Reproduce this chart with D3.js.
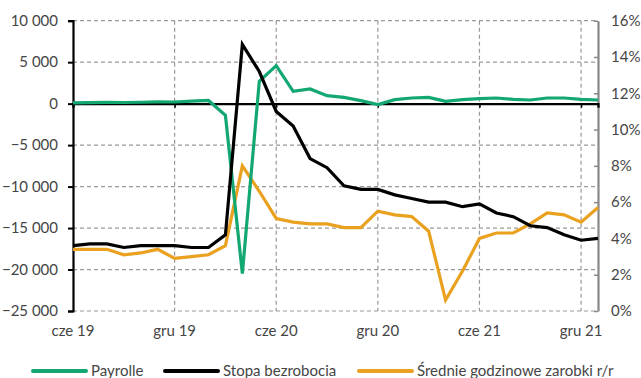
<!DOCTYPE html>
<html>
<head>
<meta charset="utf-8">
<script src="https://cdn.jsdelivr.net/npm/d3@7"></script>
<style>
  html, body { margin: 0; padding: 0; background: #fff; }
  svg { display: block; font-family: Lato, "Noto Sans", sans-serif; }
</style>
</head>
<body>
<svg id="chart" width="641" height="378"></svg>
<script>
// ---- data ----
const months = ["2019-06","2019-07","2019-08","2019-09","2019-10","2019-11","2019-12",
  "2020-01","2020-02","2020-03","2020-04","2020-05","2020-06","2020-07","2020-08","2020-09",
  "2020-10","2020-11","2020-12","2021-01","2021-02","2021-03","2021-04","2021-05","2021-06",
  "2021-07","2021-08","2021-09","2021-10","2021-11","2021-12","2022-01"];
const payrolls = [100, 120, 150, 140, 170, 220, 200, 300, 380, -1400, -20500, 2690, 4580,
  1480, 1770, 960, 760, 360, -120, 480, 680, 760, 280, 480, 600, 680, 520, 440, 680, 680, 520, 440];
const unemployment = [3.6, 3.7, 3.7, 3.5, 3.6, 3.6, 3.6, 3.5, 3.5, 4.2, 14.7, 13.2, 11.0,
  10.2, 8.4, 7.9, 6.9, 6.7, 6.7, 6.4, 6.2, 6.0, 6.0, 5.75, 5.9, 5.4, 5.2, 4.7, 4.6, 4.2, 3.9, 4.0];
const earnings = [3.4, 3.4, 3.4, 3.1, 3.2, 3.4, 2.9, 3.0, 3.1, 3.6, 8.0, 6.6, 5.1,
  4.9, 4.8, 4.8, 4.6, 4.6, 5.5, 5.3, 5.2, 4.4, 0.6, 2.2, 4.0, 4.3, 4.3, 4.8, 5.4, 5.3, 4.9, 5.7];
const xTickIndex = [0, 6, 12, 18, 24, 30];
const xTickLabels = ["cze 19", "gru 19", "cze 20", "gru 20", "cze 21", "gru 21"];
const leftTicks = [10000, 5000, 0, -5000, -10000, -15000, -20000, -25000];
const rightTicks = [0, 2, 4, 6, 8, 10, 12, 14, 16];
const seriesNames = ["Payrolle", "Stopa bezrobocia", "Średnie godzinowe zarobki r/r"];
const seriesColors = ["#13a772", "#000000", "#e9a11f"];

// ---- layout ----
const svg = d3.select("#chart");
const L = 73, R = 598, T = 20.7, B = 311;
const x = d3.scaleLinear().domain([0, months.length - 1]).range([L, R]);
const yL = d3.scaleLinear().domain([-25000, 10000]).range([B, T]);
const yR = d3.scaleLinear().domain([0, 16]).range([B, T]);
const textColor = "#454545";
const fmt = v => d3.format(",")(v).replace(/,/g, " ");

// horizontal gridlines
svg.append("g").selectAll("line").data(leftTicks).join("line")
  .attr("x1", L).attr("x2", R)
  .attr("y1", d => yL(d)).attr("y2", d => yL(d))
  .attr("stroke", "#999").attr("stroke-width", 1.2).attr("stroke-dasharray", "4,3");
// vertical gridlines
svg.append("g").selectAll("line").data(xTickIndex.slice(1)).join("line")
  .attr("x1", d => x(d)).attr("x2", d => x(d))
  .attr("y1", T).attr("y2", B)
  .attr("stroke", "#999").attr("stroke-width", 1.2).attr("stroke-dasharray", "4,3");

// left axis
const gL = svg.append("g").attr("transform", `translate(${L},0)`)
  .call(d3.axisLeft(yL).tickValues(leftTicks).tickFormat(fmt).tickSize(5).tickPadding(10));
gL.select(".domain").attr("stroke", "#000").attr("stroke-width", 2.2);
gL.selectAll(".tick line").attr("stroke", "#000").attr("stroke-width", 2);
gL.selectAll("text").attr("fill", textColor).style("font-size", "15px").style("font-family", "Lato");

// right axis (ticks inward)
const gR = svg.append("g").attr("transform", `translate(${R},0)`)
  .call(d3.axisRight(yR).tickValues(rightTicks).tickFormat(d => d + "%").tickSize(0).tickPadding(13));
gR.select(".domain").attr("stroke", "#888").attr("stroke-width", 2.2);
gR.selectAll(".tick").append("line").attr("x1", -4).attr("x2", 0)
  .attr("stroke", "#888").attr("stroke-width", 1.5);
gR.selectAll("text").attr("fill", textColor).style("font-size", "15px").style("font-family", "Lato");

// zero line with x-axis ticks
const gX = svg.append("g").attr("transform", `translate(0,${yL(0)})`)
  .call(d3.axisBottom(x).tickValues(xTickIndex).tickFormat("").tickSize(4));
gX.select(".domain").attr("stroke", "#000").attr("stroke-width", 2.2);
gX.selectAll(".tick line").attr("stroke", "#000").attr("stroke-width", 1.5);

// bottom labels
svg.append("g").selectAll("text").data(xTickIndex).join("text")
  .attr("x", d => x(d)).attr("y", B + 25)
  .attr("text-anchor", "middle").attr("fill", textColor)
  .style("font-size", "15px")
  .text((d, i) => xTickLabels[i]);

// lines
const lineL = d3.line().x((d, i) => x(i)).y(d => yL(d));
const lineR = d3.line().x((d, i) => x(i)).y(d => yR(d));
const lineSpecs = [
  { data: payrolls, gen: lineL, color: seriesColors[0] },
  { data: unemployment, gen: lineR, color: seriesColors[1] },
  { data: earnings, gen: lineR, color: seriesColors[2] }
];
[lineSpecs[2], lineSpecs[0], lineSpecs[1]].forEach(s => {
  svg.append("path").datum(s.data)
    .attr("d", s.gen)
    .attr("fill", "none")
    .attr("stroke", s.color)
    .attr("stroke-width", 3.2)
    .attr("stroke-linejoin", "miter");
});

// legend
const legendX = [33, 165, 359];
const legend = svg.append("g").attr("transform", "translate(0,371)");
seriesNames.forEach((name, i) => {
  const g = legend.append("g").attr("transform", `translate(${legendX[i]},0)`);
  g.append("line").attr("x1", 0).attr("x2", 53).attr("y1", 0).attr("y2", 0)
    .attr("stroke", seriesColors[i]).attr("stroke-width", 4).attr("stroke-linecap", "round");
  g.append("text").attr("x", 58).attr("y", 5)
    .attr("fill", textColor).style("font-size", "15px").text(name);
});
</script>
</body>
</html>
